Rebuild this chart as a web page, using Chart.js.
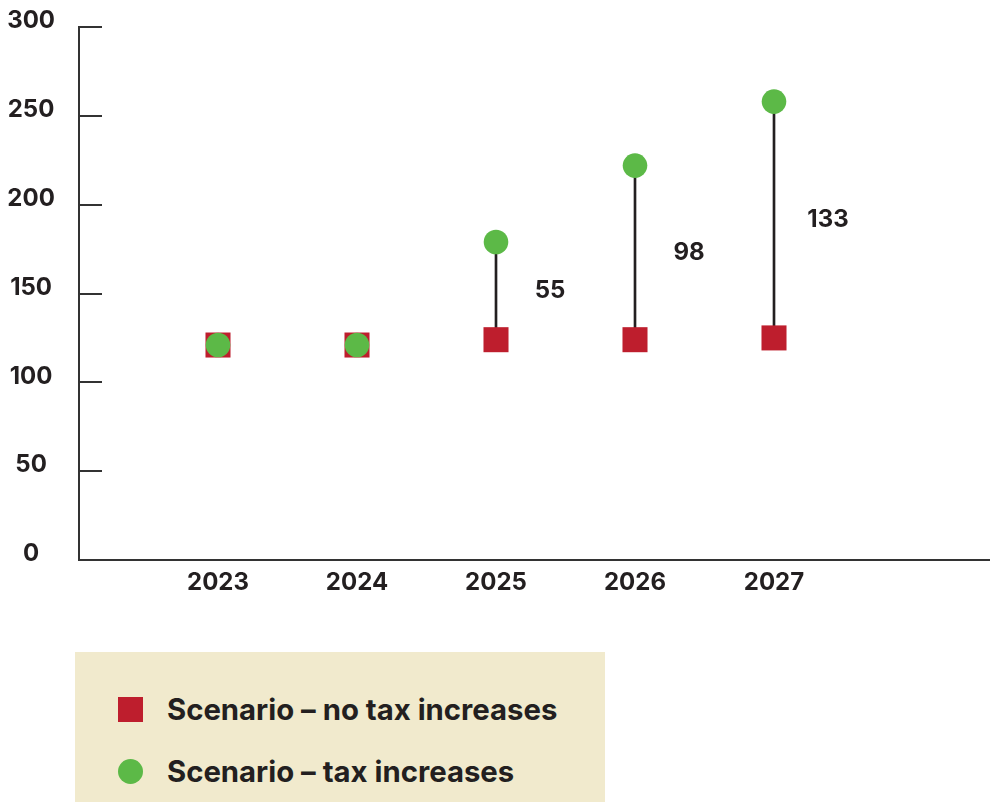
<!DOCTYPE html>
<html>
<head>
<meta charset="utf-8">
<script src="https://cdn.jsdelivr.net/npm/chart.js@4"></script>
<style>
  body { margin: 0; background: #fff; font-family: "Inter", sans-serif; }
  #wrap { position: relative; width: 990px; height: 802px; }
  #chartBox { position: absolute; left: 0; top: 0; width: 990px; height: 610px; }
  #legend {
    position: absolute; left: 75px; top: 652px; width: 530px; height: 150px;
    background: #f1eacd; color: #231f20; font-weight: 700; font-size: 29.3px;
  }
  #legend .item { position: absolute; left: 43px; display: flex; align-items: center; height: 30px; }
  #legend .mark { width: 25px; height: 25px; margin-right: 24px; }
</style>
</head>
<body>
<div id="wrap">
  <div id="chartBox"><canvas id="myChart"></canvas></div>
  <div id="legend"></div>
</div>
<script>
const years = [2023, 2024, 2025, 2026, 2027];
const noTaxIncrease = [121, 121, 124, 124, 125];
const gap = [0, 0, 55, 98, 133];
const taxIncrease = noTaxIncrease.map((v, i) => v + gap[i]);
const yTicks = [0, 50, 100, 150, 200, 250, 300];

const RED = '#be1e2d';
const GREEN = '#5cb947';
const INK = '#231f20';
const FONT = 'Inter, sans-serif';

// little tick marks on the inside of the y axis
const yTickMarks = {
  id: 'yTickMarks',
  afterDraw(chart) {
    const y = chart.scales.y;
    const c = chart.ctx;
    c.save();
    c.strokeStyle = '#333';
    c.lineWidth = 2;
    y.ticks.forEach(t => {
      const py = Math.round(y.getPixelForValue(t.value));
      c.beginPath();
      c.moveTo(y.right, py);
      c.lineTo(y.right + 23, py);
      c.stroke();
    });
    c.restore();
  }
};

// gap labels next to each connector
const gapLabels = {
  id: 'gapLabels',
  afterDatasetsDraw(chart) {
    const x = chart.scales.x, y = chart.scales.y;
    const c = chart.ctx;
    c.save();
    c.fillStyle = INK;
    c.font = '700 24px ' + FONT;
    c.textAlign = 'center';
    c.textBaseline = 'middle';
    years.forEach((yr, i) => {
      if (!gap[i]) return;
      const px = x.getPixelForValue(yr) + 54;
      const py = (y.getPixelForValue(noTaxIncrease[i]) + y.getPixelForValue(taxIncrease[i])) / 2;
      c.fillText(String(gap[i]), px, py);
    });
    c.restore();
  }
};

const ctx = document.getElementById('myChart');
const myChart = new Chart(ctx, {
  type: 'scatter',
  data: {
    datasets: [
      {
        label: 'Scenario – tax increases',
        data: years.map((yr, i) => ({ x: yr, y: taxIncrease[i] })),
        pointStyle: 'circle',
        pointRadius: 12.3,
        backgroundColor: GREEN,
        borderWidth: 0,
        order: 1
      },
      {
        label: 'Scenario – no tax increases',
        data: years.map((yr, i) => ({ x: yr, y: noTaxIncrease[i] })),
        pointStyle: 'rect',
        pointRadius: 17.7,
        backgroundColor: RED,
        borderWidth: 0,
        order: 2
      },
      {
        type: 'bar',
        label: 'gap',
        data: years.map((yr, i) => ({ x: yr, y: [noTaxIncrease[i], taxIncrease[i]] })),
        backgroundColor: INK,
        barThickness: 2,
        borderWidth: 0,
        order: 3
      }
    ]
  },
  options: {
    responsive: true,
    maintainAspectRatio: false,
    animation: false,
    layout: { autoPadding: false, padding: { top: 27, left: 0, right: 0, bottom: 0 } },
    scales: {
      x: {
        type: 'linear',
        offset: false,
        min: 2022,
        max: 2022 + 911 / 139,
        afterBuildTicks: s => { s.ticks = years.map(v => ({ value: v })); },
        afterFit: s => { s.height = 50; },
        grid: { display: false, drawTicks: false, offset: false },
        border: { display: true, color: '#333', width: 2 },
        ticks: {
          padding: 8,
          color: INK,
          font: { family: FONT, size: 24, weight: 700 },
          callback: v => String(v)
        }
      },
      y: {
        min: 0,
        max: 300,
        afterBuildTicks: s => { s.ticks = yTicks.map(v => ({ value: v })); },
        afterFit: s => { s.width = 79; },
        // tickLength only reserves room left of the labels' column
        grid: { display: false, drawTicks: true, tickLength: 24 },
        border: { display: true, color: '#333', width: 2 },
        ticks: {
          crossAlign: 'center',
          padding: 0,
          labelOffset: -6,
          color: INK,
          font: { family: FONT, size: 24, weight: 700 }
        }
      }
    },
    plugins: {
      legend: { display: false },
      tooltip: { enabled: false }
    }
  },
  plugins: [yTickMarks, gapLabels]
});

// legend built from the two scenario datasets
const legend = document.getElementById('legend');
[[1, 42], [0, 104]].forEach(([di, top]) => {
  const ds = myChart.data.datasets[di];
  const item = document.createElement('div');
  item.className = 'item';
  item.style.top = top + 'px';
  const mark = document.createElement('span');
  mark.className = 'mark';
  mark.style.background = ds.backgroundColor;
  if (ds.pointStyle === 'circle') mark.style.borderRadius = '50%';
  const txt = document.createElement('span');
  txt.textContent = ds.label;
  item.appendChild(mark);
  item.appendChild(txt);
  legend.appendChild(item);
});
</script>
</body>
</html>
